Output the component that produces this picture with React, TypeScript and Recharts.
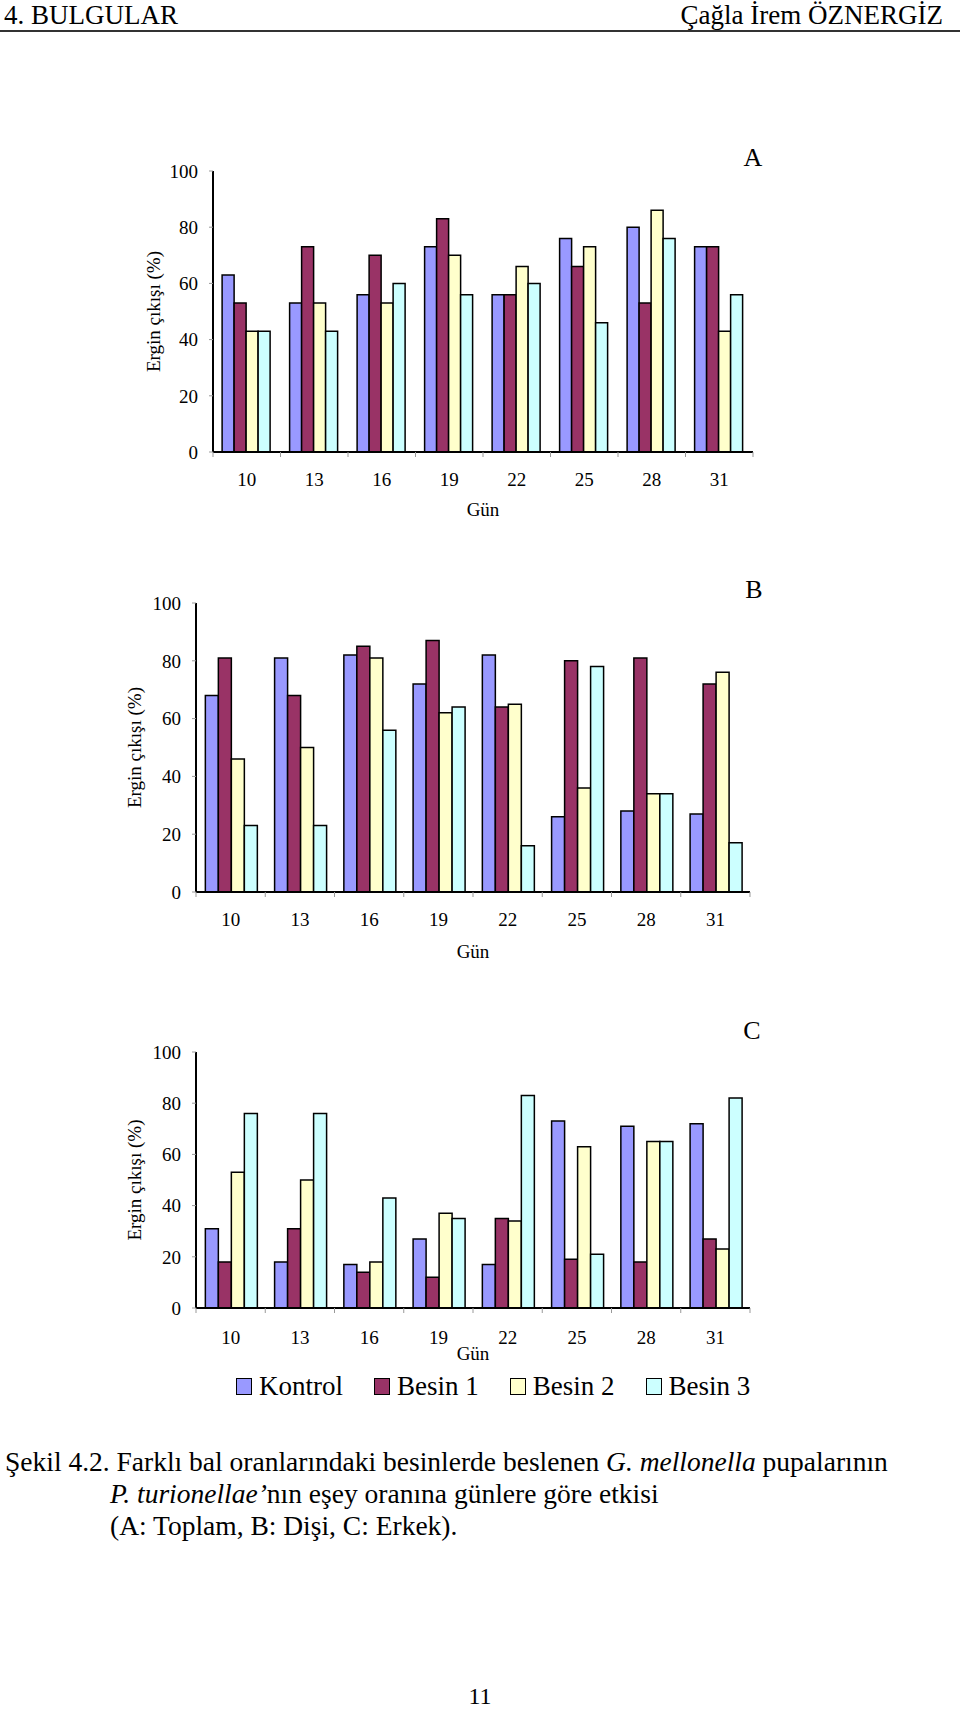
import React from 'react';
import { BarChart, Bar, XAxis, YAxis } from 'recharts';

const days = ['10', '13', '16', '19', '22', '25', '28', '31'];
const seriesNames = ['Kontrol', 'Besin 1', 'Besin 2', 'Besin 3'];
const seriesColors = ['#9999FF', '#993366', '#FFFFCC', '#CCFFFF'];
const yTicks = [0, 20, 40, 60, 80, 100];

// A: Toplam
const toplamKontrol = [63, 53, 56, 73, 56, 76, 80, 73];
const toplamBesin1 = [53, 73, 70, 83, 56, 66, 53, 73];
const toplamBesin2 = [43, 53, 53, 70, 66, 73, 86, 43];
const toplamBesin3 = [43, 43, 60, 56, 60, 46, 76, 56];

// B: Dişi
const disiKontrol = [68, 81, 82, 72, 82, 26, 28, 27];
const disiBesin1 = [81, 68, 85, 87, 64, 80, 81, 72];
const disiBesin2 = [46, 50, 81, 62, 65, 36, 34, 76];
const disiBesin3 = [23, 23, 56, 64, 16, 78, 34, 17];

// C: Erkek
const erkekKontrol = [31, 18, 17, 27, 17, 73, 71, 72];
const erkekBesin1 = [18, 31, 14, 12, 35, 19, 18, 27];
const erkekBesin2 = [53, 50, 18, 37, 34, 63, 65, 23];
const erkekBesin3 = [76, 76, 43, 35, 83, 21, 65, 82];

const FONT = '"Liberation Serif", "Times New Roman", serif';
const CHART_W = 800;

type Row = { day: string; s0: number; s1: number; s2: number; s3: number };

const buildRows = (a: number[], b: number[], c: number[], d: number[]): Row[] =>
  days.map((day, i) => ({ day, s0: a[i], s1: b[i], s2: c[i], s3: d[i] }));

// label in the middle of the category, small tick marks on the category borders
const makeXTick = (band: number, gap: number) => (props: any) => {
  const { x, y, payload, index } = props;
  const axisY = y - gap;
  return (
    <g>
      <line x1={x - band / 2} x2={x - band / 2} y1={axisY} y2={axisY + 5} stroke="#999" />
      {index === days.length - 1 && (
        <line x1={x + band / 2} x2={x + band / 2} y1={axisY} y2={axisY + 5} stroke="#999" />
      )}
      <text x={x} y={y} dy="0.71em" textAnchor="middle" fontSize={19} fill="#000">
        {payload.value}
      </text>
    </g>
  );
};

interface PanelProps {
  rows: Row[];
  top: number;
  height: number;
  plotLeft: number;
  plotRight: number;
  plotTop: number;
  plotBottom: number;
  tickGap: number;
  gunOffset: number;
  yLabelX: number;
  letter: string;
  letterX: number;
  letterBaseline: number;
}

const Panel: React.FC<PanelProps> = (p) => {
  const band = (p.plotRight - p.plotLeft) / days.length;
  return (
    <>
      <div style={{ position: 'absolute', left: 0, top: p.top, width: CHART_W, height: p.height }}>
        <BarChart
          width={CHART_W}
          height={p.height}
          data={p.rows}
          margin={{ top: p.plotTop - p.top, right: CHART_W - p.plotRight, left: 0, bottom: 0 }}
          barGap={0}
          barCategoryGap="13.5%"
        >
          <XAxis
            dataKey="day"
            height={p.top + p.height - p.plotBottom}
            axisLine={{ stroke: '#000', strokeWidth: 2 }}
            tickLine={false}
            tickSize={0}
            tickMargin={p.tickGap}
            interval={0}
            tick={makeXTick(band, p.tickGap)}
            label={{ value: 'Gün', position: 'insideBottom', offset: p.gunOffset, fontSize: 19, fill: '#000' }}
          />
          <XAxis
            xAxisId="top"
            dataKey="day"
            orientation="top"
            height={0}
            tick={false}
            tickLine={false}
            axisLine={{ stroke: '#000', strokeWidth: 2 }}
          />
          <YAxis
            width={p.plotLeft}
            domain={[0, 100]}
            ticks={yTicks}
            interval={0}
            axisLine={{ stroke: '#000', strokeWidth: 2 }}
            tickLine={{ stroke: '#999' }}
            tickSize={4}
            tickMargin={11}
            tick={{ fontSize: 19, fill: '#000' }}
            label={{
              value: 'Ergin çıkışı (%)',
              angle: -90,
              position: 'insideLeft',
              offset: p.yLabelX,
              fontSize: 19,
              fill: '#000',
              style: { textAnchor: 'middle' },
            }}
          />
          <YAxis
            yAxisId="right"
            orientation="right"
            width={0}
            domain={[0, 100]}
            tick={false}
            tickLine={false}
            axisLine={{ stroke: '#000', strokeWidth: 2 }}
          />
          {seriesNames.map((name, i) => (
            <Bar
              key={name}
              dataKey={`s${i}`}
              name={name}
              fill={seriesColors[i]}
              stroke="#000"
              strokeWidth={1.5}
              isAnimationActive={false}
            />
          ))}
        </BarChart>
      </div>
      <div
        style={{
          position: 'absolute',
          left: p.letterX - 20,
          width: 40,
          textAlign: 'center',
          top: p.letterBaseline - 0.84 * 26,
          fontSize: 26,
          lineHeight: 1,
        }}
      >
        {p.letter}
      </div>
    </>
  );
};

const Legend: React.FC = () => (
  <div
    style={{
      position: 'absolute',
      left: 236,
      top: 1370,
      height: 32,
      display: 'flex',
      alignItems: 'center',
      gap: 31,
      fontSize: 27,
      lineHeight: 1,
    }}
  >
    {seriesNames.map((name, i) => (
      <div key={name} style={{ display: 'flex', alignItems: 'center', gap: 7 }}>
        <span
          style={{
            display: 'inline-block',
            width: 14,
            height: 15,
            background: seriesColors[i],
            border: '1.5px solid #000',
          }}
        />
        <span>{name}</span>
      </div>
    ))}
  </div>
);

const textAt = (baseline: number, size: number) => ({
  position: 'absolute' as const,
  top: baseline - 0.84 * size,
  fontSize: size,
  lineHeight: 1,
  whiteSpace: 'nowrap' as const,
});

export default function App() {
  return (
    <div
      style={{
        position: 'absolute',
        left: 0,
        top: 0,
        width: 960,
        height: 1711,
        background: '#fff',
        fontFamily: FONT,
        color: '#000',
        overflow: 'hidden',
      }}
    >
      <div style={{ ...textAt(25, 27), left: 4 }}>4. BULGULAR</div>
      <div style={{ ...textAt(25, 27), right: 17 }}>Çağla İrem ÖZNERGİZ</div>
      <div style={{ position: 'absolute', left: 0, top: 30, width: 960, height: 2, background: '#333' }} />

      <Panel
        rows={buildRows(toplamKontrol, toplamBesin1, toplamBesin2, toplamBesin3)}
        top={120}
        height={410}
        plotLeft={213}
        plotRight={753}
        plotTop={171}
        plotBottom={452}
        tickGap={21}
        gunOffset={14}
        yLabelX={153}
        letter="A"
        letterX={753}
        letterBaseline={167}
      />
      <Panel
        rows={buildRows(disiKontrol, disiBesin1, disiBesin2, disiBesin3)}
        top={560}
        height={410}
        plotLeft={196}
        plotRight={750}
        plotTop={603}
        plotBottom={892}
        tickGap={21}
        gunOffset={12}
        yLabelX={134}
        letter="B"
        letterX={754}
        letterBaseline={599}
      />
      <Panel
        rows={buildRows(erkekKontrol, erkekBesin1, erkekBesin2, erkekBesin3)}
        top={1010}
        height={360}
        plotLeft={196}
        plotRight={750}
        plotTop={1052}
        plotBottom={1308}
        tickGap={23}
        gunOffset={10}
        yLabelX={134}
        letter="C"
        letterX={752}
        letterBaseline={1040}
      />
      <Legend />

      <div style={{ ...textAt(1471, 27.5), left: 5 }}>
        Şekil 4.2. Farklı bal oranlarındaki besinlerde beslenen <i>G. mellonella</i> pupalarının
      </div>
      <div style={{ ...textAt(1503, 27.5), left: 110 }}>
        <i>P. turionellae’</i>nın eşey oranına günlere göre etkisi
      </div>
      <div style={{ ...textAt(1535, 27.5), left: 110 }}>(A: Toplam, B: Dişi, C: Erkek).</div>

      <div style={{ ...textAt(1704, 24), left: 0, width: 960, textAlign: 'center' }}>11</div>
    </div>
  );
}
